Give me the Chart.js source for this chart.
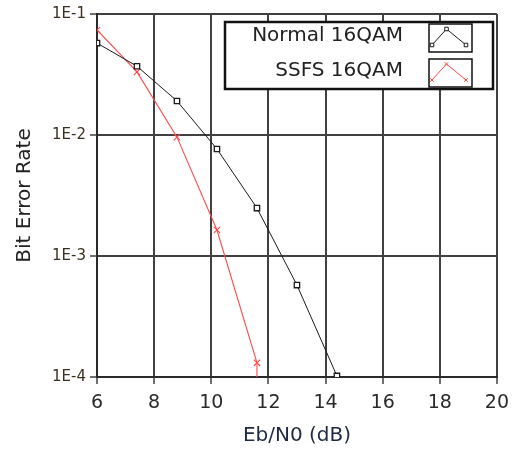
<!DOCTYPE html>
<html>
<head>
<meta charset="utf-8">
<script src="https://cdn.jsdelivr.net/npm/chart.js@4/dist/chart.umd.min.js"></script>
<style>
  html, body { margin: 0; padding: 0; background: #fff; }
  #wrap { width: 517px; height: 450px; }
</style>
</head>
<body>
<div id="wrap"><canvas id="myChart" width="517" height="450"></canvas></div>
<script>
const ebn0 = [6.0, 7.4, 8.8, 10.2, 11.6, 13.0, 14.4]
const normalBer = [0.0575, 0.037, 0.0191, 0.00766, 0.00249, 0.000575, 0.000102]
const ssfsEbn0 = [6.0, 7.4, 8.8, 10.2, 11.6, 11.6]
const ssfsBer = [0.0738, 0.0332, 0.0096, 0.00164, 0.000131, 0.00001]
const xTicks = [6, 8, 10, 12, 14, 16, 18, 20]
const yTicks = [0.0001, 0.001, 0.01, 0.1]
const yTickLabels = ['1E-4', '1E-3', '1E-2', '1E-1']
const seriesNames = ['Normal 16QAM', 'SSFS 16QAM']

const FONT = 'DejaVu Sans'
const gridColor = '#404040'

// legend box drawn on top of the plot, like the original instrument panel
const boxLegend = {
    id: 'boxLegend',
    afterDraw(chart){
        const ctx = chart.ctx
        const x0 = 225, y0 = 22, w = 268, h = 67
        ctx.save()
        ctx.fillStyle = '#fff'
        ctx.fillRect(x0, y0, w, h)
        ctx.strokeStyle = '#111'
        ctx.lineWidth = 2.5
        ctx.strokeRect(x0, y0, w, h)
        ctx.font = '20px "' + FONT + '"'
        ctx.textAlign = 'right'
        ctx.textBaseline = 'middle'
        chart.data.datasets.forEach((ds, i) => {
            const cy = y0 + 14 + i * 35
            ctx.fillStyle = '#222'
            ctx.fillText(ds.label, x0 + 178, cy)
            // icon box
            const bx = x0 + 204, by = y0 + 2 + i * 35, bw = 43, bh = 28
            ctx.lineWidth = 1.5
            ctx.strokeStyle = '#111'
            ctx.strokeRect(bx, by, bw, bh)
            const pts = [[bx + 3, by + bh - 7], [bx + bw / 2 - 4, by + 5], [bx + bw - 6, by + bh - 7]]
            ctx.strokeStyle = ds.borderColor
            ctx.lineWidth = 1
            ctx.beginPath()
            pts.forEach((p, k) => k ? ctx.lineTo(p[0], p[1]) : ctx.moveTo(p[0], p[1]))
            ctx.stroke()
            ctx.fillStyle = '#fff'
            pts.forEach(p => {
                Chart.helpers.drawPoint(ctx, {
                    pointStyle: ds.pointStyle, radius: 2.5, borderWidth: 1, rotation: 0
                }, p[0], p[1])
            })
        })
        ctx.restore()
    }
}

const ctx = document.getElementById('myChart')

new Chart(ctx, {
    type: 'line',
    data: {
        datasets: [{
            label: seriesNames[0],
            data: ebn0.map((x, i) => ({x, y: normalBer[i]})),
            borderColor: '#1a1a1a',
            backgroundColor: '#fff',
            borderWidth: 1,
            pointStyle: 'rect',
            pointRadius: 3.8,
            pointBorderWidth: 1.3,
            tension: 0
        }, {
            label: seriesNames[1],
            data: ssfsEbn0.map((x, i) => ({x, y: ssfsBer[i]})),
            borderColor: '#ff4a4a',
            backgroundColor: '#ff4a4a',
            borderWidth: 1.1,
            pointStyle: 'crossRot',
            pointRadius: [4.5, 4.5, 4.5, 4.5, 4.5, 0],
            pointBorderWidth: 1.1,
            tension: 0
        }]
    },
    options: {
        responsive: false,
        animation: false,
        events: [],
        layout: { padding: { top: 14, right: 17, left: 0, bottom: 0 } },
        scales: {
            x: {
                type: 'linear',
                min: 6,
                max: 20,
                afterBuildTicks: s => { s.ticks = xTicks.map(v => ({value: v})) },
                afterFit: s => { s.height = 73 },
                ticks: { color: '#2a2a2a', font: { family: FONT, size: 19 }, padding: 8, maxRotation: 0 },
                grid: { color: gridColor, lineWidth: 2, tickLength: 7, tickColor: gridColor, tickWidth: 1.5 },
                border: { display: true, color: '#2a2a2a', width: 2 },
                title: { display: true, text: 'Eb/N0 (dB)', color: '#1f2a40', font: { family: FONT, size: 20 }, padding: { top: 0, bottom: 2 } }
            },
            y: {
                type: 'logarithmic',
                min: 0.0001,
                max: 0.1,
                afterBuildTicks: s => { s.ticks = yTicks.map(v => ({value: v})) },
                afterFit: s => { s.width = 97 },
                ticks: {
                    color: '#3a3020',
                    font: { family: FONT, size: 15 },
                    padding: 4,
                    callback: v => yTickLabels[yTicks.indexOf(v)] ?? ''
                },
                grid: { color: gridColor, lineWidth: 2, tickLength: 7, tickColor: gridColor, tickWidth: 1.5 },
                border: { display: true, color: '#2a2a2a', width: 2 },
                title: { display: true, text: 'Bit Error Rate', color: '#222', font: { family: FONT, size: 20 }, padding: { top: 13, bottom: 0 } }
            }
        },
        plugins: {
            legend: { display: false },
            tooltip: { enabled: false }
        }
    },
    plugins: [boxLegend]
})
</script>
</body>
</html>
